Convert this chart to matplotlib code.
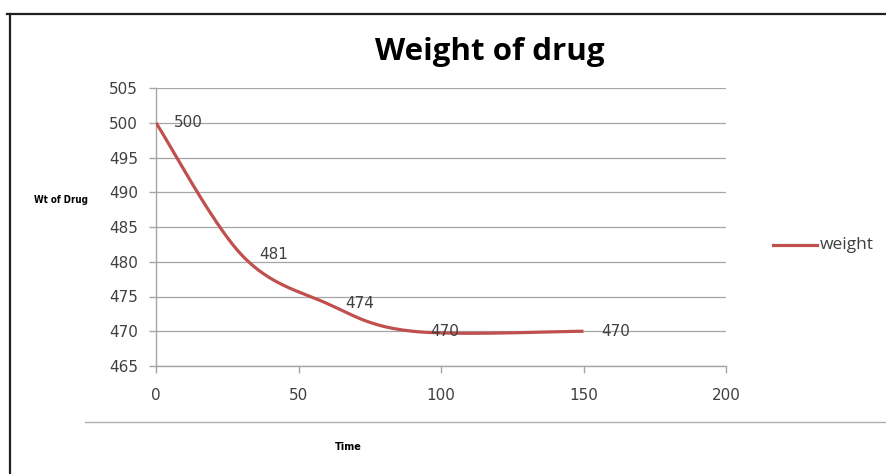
#!/usr/bin/env python3
import matplotlib

matplotlib.use("Agg")
import matplotlib.pyplot as plt  # noqa: E402
import numpy as np  # noqa: E402
from matplotlib.lines import Line2D  # noqa: E402

# drug weight over time
time = [0, 30, 60, 90, 150]
weight = [500, 481, 474, 470, 470]

x_ticks = [0, 50, 100, 150, 200]
y_ticks = [465, 470, 475, 480, 485, 490, 495, 500, 505]

LINE_RED = "#C0504D"
TEXT_GRAY = "#404040"
GRID_GRAY = "#A6A6A6"


def _smooth(xs, ys, sx, sy, steps=40):
    # Catmull-Rom curve through the points, computed in screen-like units
    px = np.asarray(xs, float) * sx
    py = np.asarray(ys, float) * sy
    pts = np.column_stack([px, py])
    pts = np.vstack([pts[0], pts, pts[-1]])
    out = []
    for i in range(1, len(pts) - 2):
        p0, p1, p2, p3 = pts[i - 1], pts[i], pts[i + 1], pts[i + 2]
        c1 = p1 + (p2 - p0) / 6.0
        c2 = p2 - (p3 - p1) / 6.0
        t = np.linspace(0, 1, steps)[:, None]
        seg = ((1 - t) ** 3) * p1 + 3 * ((1 - t) ** 2) * t * c1 + 3 * (1 - t) * t**2 * c2 + t**3 * p2
        out.append(seg if i == 1 else seg[1:])
    curve = np.vstack(out)
    return curve[:, 0] / sx, curve[:, 1] / sy


fig = plt.figure(figsize=(8.86, 4.74), dpi=100)
ax = fig.add_axes([156 / 886, 1 - 366 / 474, 570 / 886, 278 / 474])

sx = 570 / 200
sy = 278 / 40
cx, cy = _smooth(time, weight, sx, sy)
ax.plot(cx, cy, color=LINE_RED, lw=2.3, solid_capstyle="butt", zorder=3)

for t, w in zip(time, weight):
    ax.annotate(str(w), (t, w), xytext=(13, 0), textcoords="offset points",
                ha="left", va="center", fontsize=11, color=TEXT_GRAY,
                family="DejaVu Sans", zorder=4)

ax.set_xlim(0, 200)
ax.set_ylim(465, 505)
ax.set_xticks(x_ticks)
ax.set_yticks(y_ticks)
ax.tick_params(axis="both", colors=GRID_GRAY, labelcolor=TEXT_GRAY,
               labelsize=11, length=5, width=1)
ax.tick_params(axis="x", pad=11)
ax.tick_params(axis="y", pad=8)
ax.yaxis.grid(True, color=GRID_GRAY, lw=0.9)
ax.set_axisbelow(True)
for side in ("top", "right"):
    ax.spines[side].set_visible(False)
for side in ("left", "bottom"):
    ax.spines[side].set_color(GRID_GRAY)
    ax.spines[side].set_linewidth(1)

fig.text(490 / 886, 1 - 52 / 474, "Weight of drug", ha="center", va="center",
         fontsize=22.5, fontweight="bold", family="Open Sans", color="black")
fig.text(61 / 886, 1 - 200 / 474, "Wt of Drug", ha="center", va="center",
         fontsize=7, fontweight="bold", family="DejaVu Sans", color="black",
         fontstretch="condensed")
fig.text(348 / 886, 1 - 447 / 474, "Time", ha="center", va="center",
         fontsize=7, fontweight="bold", family="DejaVu Sans", color="black")

# legend entry
fig.add_artist(Line2D([773 / 886, 817 / 886], [1 - 245 / 474] * 2,
                      transform=fig.transFigure, color=LINE_RED, lw=2.3))
fig.text(820 / 886, 1 - 245 / 474, "weight", ha="left", va="center",
         fontsize=12.5, family="Open Sans", color=TEXT_GRAY)

# chart frame edges
fig.add_artist(Line2D([7 / 886, 1.0], [1 - 14 / 474] * 2,
                      transform=fig.transFigure, color="#202020", lw=1.6))
fig.add_artist(Line2D([10 / 886, 10 / 886], [0, 1 - 14 / 474],
                      transform=fig.transFigure, color="#202020", lw=1.6))
fig.add_artist(Line2D([85 / 886, 1.0], [1 - 422 / 474] * 2,
                      transform=fig.transFigure, color="#B0B0B0", lw=1))

fig.savefig("out.png", dpi=100, facecolor="white")
